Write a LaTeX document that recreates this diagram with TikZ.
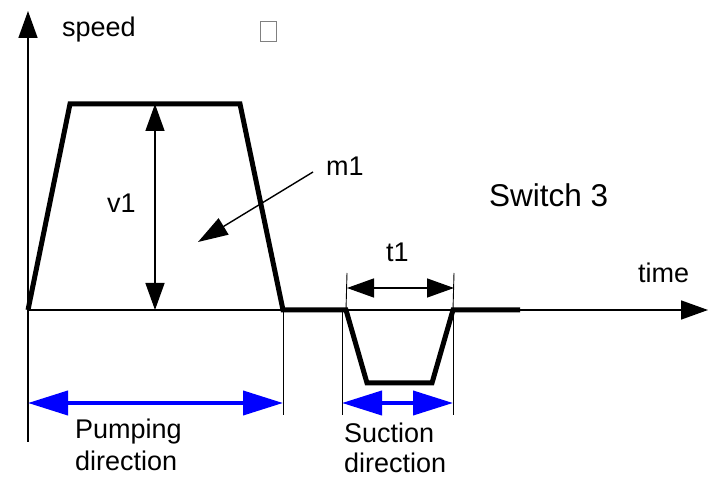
\documentclass[tikz,border=0pt]{standalone}
\usepackage{fontspec}
\setmainfont{Liberation Sans}
\usetikzlibrary{arrows.meta}
\begin{document}
\begin{tikzpicture}[x=1pt,y=-1pt,
  lbl/.style={inner sep=0pt,font=\fontsize{27}{32}\selectfont},
  biglbl/.style={inner sep=0pt,font=\fontsize{31.5}{37}\selectfont},
  axisline/.style={line width=1.6pt,-{Triangle[length=27pt,width=19pt]}},
  profile/.style={line width=5pt,line join=miter},
  extline/.style={line width=0.9pt},
  dimarrow/.style={line width=1.4pt,{Triangle[length=27pt,width=19pt]}-{Triangle[length=27pt,width=19pt]}},
  bluearrow/.style={draw=blue,line width=4pt,{Triangle[length=40pt,width=24pt]}-{Triangle[length=40pt,width=24pt]}}]
\useasboundingbox (0,0) rectangle (716,478);
% key points
\coordinate (o) at (28,310);
\coordinate (ytop) at (28,11);
\coordinate (ybot) at (28,442);
\coordinate (xend) at (708,310);
\coordinate (p1) at (70,104);
\coordinate (p2) at (240,104);
\coordinate (p3) at (283,310);
\coordinate (p4) at (346,310);
\coordinate (p5) at (367,383);
\coordinate (p6) at (432,383);
\coordinate (p7) at (453,310);
\coordinate (p8) at (520,310);
% axes
\draw[line width=1.6pt] (o) -- (ybot);
\draw[axisline] (o) -- (ytop);
\draw[axisline] (o) -- (xend);
% extension lines
\draw[extline] (p3) -- (283,415) coordinate (e1);
\draw[extline] (347,273) coordinate (e2t) -- (p4);
\draw[extline] (342,310) -- (342,415) coordinate (e2b);
\draw[extline] (454,273) coordinate (e3t) -- (p7);
\draw[extline] (453,310) -- (453,415) coordinate (e3b);
% profile
\draw[profile] (o) -- (p1) -- (p2) -- (p3) -- (p4) -- (p5) -- (p6) -- (p7) -- (p8);
% v1 dimension
\coordinate (v1t) at (155,104);
\coordinate (v1b) at (155,310);
\draw[dimarrow] (v1t) -- (v1b);
% t1 dimension
\coordinate (t1l) at (347,288);
\coordinate (t1r) at (454,288);
\draw[dimarrow] (t1l) -- (t1r);
% m1 pointer
\coordinate (m1s) at (313,172);
\coordinate (m1e) at (198,242);
\draw[line width=1.4pt,-{Triangle[length=30pt,width=19pt]}] (m1s) -- (m1e);
% blue arrows
\coordinate (b1l) at (28,403);
\coordinate (b1r) at (283,403);
\draw[bluearrow] (b1l) -- (b1r);
\coordinate (b2l) at (342,403);
\coordinate (b2r) at (453,403);
\draw[bluearrow] (b2l) -- (b2r);
% labels
\node[lbl,anchor=base west] (speed) at (62,37) {speed};
\node[draw=gray,line width=1pt,minimum width=16pt,minimum height=20pt,inner sep=0pt] (box) at (268,32) {};
\node[lbl,anchor=base west] (v1) at (107,213) {v1};
\node[lbl,anchor=base west] (m1) at (326,176) {m1};
\node[biglbl,anchor=base west] (sw) at (489,207) {Switch 3};
\node[lbl,anchor=base west] (t1) at (386,262) {t1};
\node[lbl,anchor=base west] (time) at (638,283) {time};
\node[lbl,anchor=base west] (pump1) at (75,439) {Pumping};
\node[lbl,anchor=base west] (pump2) at (75,471) {direction};
\node[lbl,anchor=base west] (suc1) at (344,443) {Suction};
\node[lbl,anchor=base west] (suc2) at (344,473) {direction};
\end{tikzpicture}
\end{document}
